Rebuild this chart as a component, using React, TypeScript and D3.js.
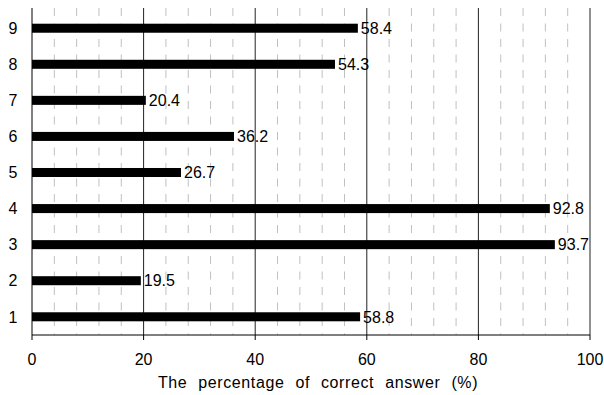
import React from "react";
import * as d3 from "d3";

const categories = ["1", "2", "3", "4", "5", "6", "7", "8", "9"];
const values = [58.8, 19.5, 93.7, 92.8, 26.7, 36.2, 20.4, 54.3, 58.4];
const majorTicks = [0, 20, 40, 60, 80, 100];
const minorTicks = d3.range(4, 100, 4).filter((v) => v % 20 !== 0);
const xTitle = "The percentage of correct answer (%)";

const W = 604;
const H = 395;
const left = 32;
const right = 590;
const top = 8;
const bottom = 335;

export default function App() {
  const x = d3.scaleLinear().domain([0, 100]).range([left, right]);
  const y = d3
    .scaleBand<string>()
    .domain(categories)
    .range([bottom, top + 2])
    .paddingInner(0.75)
    .paddingOuter(0.38);
  const font = "Arial, 'Liberation Sans', sans-serif";
  return (
    <svg
      width={W}
      height={H}
      style={{ position: "absolute", left: 0, top: 0, background: "#fff" }}
      fontFamily={font}
    >
      {minorTicks.map((t) => (
        <line
          key={"m" + t}
          x1={x(t)}
          x2={x(t)}
          y1={top}
          y2={bottom}
          stroke="#c0c0c0"
          strokeWidth={1}
          strokeDasharray="8 7.5"
        />
      ))}
      {majorTicks.slice(1).map((t) => (
        <line
          key={"g" + t}
          x1={x(t)}
          x2={x(t)}
          y1={top}
          y2={bottom}
          stroke="#222"
          strokeWidth={1}
        />
      ))}
      <line x1={left} x2={left} y1={top} y2={bottom} stroke="#000" strokeWidth={1} />
      <line x1={left} x2={right} y1={bottom} y2={bottom} stroke="#000" strokeWidth={1} />
      {majorTicks.map((t) => (
        <g key={"t" + t}>
          <line x1={x(t)} x2={x(t)} y1={bottom} y2={bottom + 5} stroke="#000" />
          <text x={x(t)} y={365} textAnchor="middle" fontSize={16} fill="#000">
            {t}
          </text>
        </g>
      ))}
      {categories.map((c, i) => {
        const yc = (y(c) as number) + y.bandwidth() / 2;
        return (
          <g key={"b" + c}>
            <rect
              x={x(0)}
              y={y(c)}
              width={x(values[i]) - x(0)}
              height={y.bandwidth()}
              fill="#000"
            />
            <text x={13} y={yc} dy="0.36em" textAnchor="middle" fontSize={16} fill="#000">
              {c}
            </text>
            <text x={x(values[i]) + 3} y={yc} dy="0.36em" fontSize={16} fill="#000">
              {values[i].toFixed(1)}
            </text>
          </g>
        );
      })}
      <text
        x={318}
        y={388}
        textAnchor="middle"
        fontSize={16}
        wordSpacing={6}
        letterSpacing={0.6}
        fill="#000"
      >
        {xTitle}
      </text>
    </svg>
  );
}
